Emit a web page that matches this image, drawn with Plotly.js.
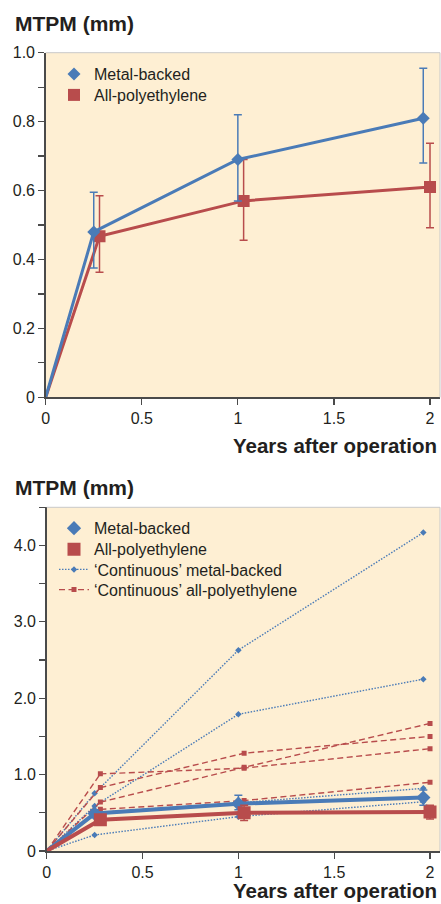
<!DOCTYPE html>
<html><head><meta charset="utf-8">
<script src="https://cdn.plot.ly/plotly-3.0.1.min.js"></script>
<style>html,body{margin:0;padding:0;background:#fff;overflow:hidden}#chart{width:441px;height:904px}</style>
</head><body><div id="chart"></div>
<script>
// ---------- data ----------
const yearsMB = [0, 0.25, 1, 1.965];
const yearsPE = [0, 0.28, 1.03, 2];

// top panel: mean MTPM with error bars
const topMB = [0, 0.48, 0.69, 0.81];
const topMBErrPlus = [0.115, 0.13, 0.145];
const topMBErrMinus = [0.105, 0.12, 0.13];
const topPE = [0, 0.467, 0.57, 0.61];
const topPEErrPlus = [0.118, 0.12, 0.127];
const topPEErrMinus = [0.104, 0.114, 0.118];

// bottom panel: means without continuous migrators
const botMB = [0, 0.49, 0.62, 0.70];
const botMBErrPlus = [0.05, 0.11, 0.1];
const botMBErrMinus = [0.05, 0.08, 0.1];
const botPE = [0, 0.41, 0.50, 0.51];
const botPEErrPlus = [0.05, 0.1, 0.09];
const botPEErrMinus = [0.05, 0.1, 0.09];

// bottom panel: individual 'continuous' migrators
const contMB1 = [0, 0.755, 2.63, 4.17];
const contMB2 = [0, 0.59, 1.79, 2.25];
const contMB3 = [0, 0.50, 0.63, 0.82];
const contMB4 = [0, 0.21, 0.45, 0.645];
const contPE1 = [0, 1.01, 1.085, 1.34];
const contPE2 = [0, 0.83, 1.28, 1.50];
const contPE3 = [0, 0.64, 1.095, 1.67];
const contPE4 = [0, 0.545, 0.66, 0.90];

const xTickVals = [0, 0.5, 1, 1.5, 2];
const xTickText = ['0', '0.5', '1', '1.5', '2'];
const topYTickVals = [0, 0.1, 0.2, 0.3, 0.4, 0.5, 0.6, 0.7, 0.8, 0.9, 1.0];
const topYTickText = ['0', '', '0.2', '', '0.4', '', '0.6', '', '0.8', '', '1.0'];
const botYTickVals = [0, 0.5, 1, 1.5, 2, 2.5, 3, 3.5, 4, 4.5];
const botYTickText = ['0', '', '1.0', '', '2.0', '', '3.0', '', '4.0', ''];

const nameMB = 'Metal-backed';
const namePE = 'All-polyethylene';
const nameCMB = '\u2018Continuous\u2019 metal-backed';
const nameCPE = '\u2018Continuous\u2019 all-polyethylene';
const yTitle = 'MTPM (mm)';
const xTitle = 'Years after operation';

// ---------- styling ----------
const BLUE = '#4a7bb7';
const RED = '#b84c4c';
const BG = '#feefd3';
const AX = '#4a4a4a';
const TXT = '#231f20';
const H = 904, W = 441;

const traces = [];

function mainSeries(x, y, errP, errM, xa, ya, color, sym, size, lw, name, legend) {
  traces.push({x: x, y: y, xaxis: xa, yaxis: ya, mode: 'lines', line: {color: color, width: lw},
    showlegend: false, hoverinfo: 'skip'});
  traces.push({x: x.slice(1), y: y.slice(1), xaxis: xa, yaxis: ya, mode: 'markers', name: name,
    legend: legend, marker: {symbol: sym, size: size, color: color},
    error_y: {type: 'data', array: errP, arrayminus: errM, color: color, thickness: 1.5, width: 4}});
}

function contSeries(x, y, color, dash, sym, size, name, legend, show) {
  traces.push({x: x.slice(0, 2), y: y.slice(0, 2), xaxis: 'x2', yaxis: 'y2', mode: 'lines',
    line: {color: color, width: 1.4, dash: dash}, showlegend: false, hoverinfo: 'skip'});
  traces.push({x: x.slice(1), y: y.slice(1), xaxis: 'x2', yaxis: 'y2', mode: 'lines+markers',
    line: {color: color, width: 1.4, dash: dash}, marker: {symbol: sym, size: size, color: color},
    name: name, legend: legend, showlegend: show});
}

// top panel
mainSeries(yearsPE, topPE, topPEErrPlus, topPEErrMinus, 'x', 'y', RED, 'square', 12, 3, namePE, 'legend2');
mainSeries(yearsMB, topMB, topMBErrPlus, topMBErrMinus, 'x', 'y', BLUE, 'diamond', 10, 3, nameMB, 'legend');

// bottom panel
const DOT = '1.5px,1.5px';
const DASH = '6px,3.5px';
[contMB1, contMB2, contMB3, contMB4].forEach((s, i) =>
  contSeries(yearsMB, s, BLUE, DOT, 'diamond', 5, nameCMB, 'legend5', i === 0));
[contPE1, contPE2, contPE3, contPE4].forEach((s, i) =>
  contSeries(yearsPE, s, RED, DASH, 'square', 5, nameCPE, 'legend6', i === 0));
mainSeries(yearsMB, botMB, botMBErrPlus, botMBErrMinus, 'x2', 'y2', BLUE, 'diamond', 11, 4, nameMB, 'legend3');
mainSeries(yearsPE, botPE, botPEErrPlus, botPEErrMinus, 'x2', 'y2', RED, 'square', 13, 4, namePE, 'legend4');

function px(xp) { return xp / W; }
function py(yp) { return (H - yp) / H; }

const axisCommon = {showline: true, linecolor: AX, linewidth: 1.5, ticks: 'outside', ticklen: 6,
  tickwidth: 1.2, tickcolor: AX, showgrid: false, zeroline: false, fixedrange: true,
  tickfont: {size: 16, color: TXT}, tickmode: 'array'};

function legendAt(xp, yp) {
  return {x: px(xp), y: py(yp), xanchor: 'left', yanchor: 'middle', bgcolor: 'rgba(0,0,0,0)',
    borderwidth: 0, font: {size: 16, color: TXT}};
}

const titleFont = {size: 21, color: TXT, weight: 'bold'};
const xTitleFont = {size: 20.5, color: TXT, weight: 'bold'};

const layout = {
  width: W, height: H, margin: {l: 0, r: 0, t: 0, b: 0},
  paper_bgcolor: '#ffffff', plot_bgcolor: BG,
  font: {family: 'Liberation Sans, Arial, sans-serif', size: 16, color: TXT},
  xaxis: Object.assign({}, axisCommon, {domain: [px(45.7), px(440)], range: [0, 2.052], anchor: 'y',
    tickvals: xTickVals, ticktext: xTickText}),
  yaxis: Object.assign({}, axisCommon, {domain: [py(397.3), py(52.7)], range: [0, 1.0], anchor: 'x',
    tickvals: topYTickVals, ticktext: topYTickText}),
  xaxis2: Object.assign({}, axisCommon, {domain: [px(46.7), px(440)], range: [0, 2.052], anchor: 'y2',
    tickvals: xTickVals, ticktext: xTickText}),
  yaxis2: Object.assign({}, axisCommon, {domain: [py(851), py(507.3)], range: [0, 4.5], anchor: 'x2',
    tickvals: botYTickVals, ticktext: botYTickText}),
  legend: legendAt(54, 74),
  legend2: legendAt(54, 95),
  legend3: legendAt(54, 528.3),
  legend4: legendAt(54, 549.3),
  legend5: legendAt(54, 569.5),
  legend6: legendAt(54, 589.7),
  shapes: [
    {type: 'line', xref: 'x domain', yref: 'y domain', x0: 0, x1: 1, y0: 1, y1: 1, line: {color: '#c9c9c9', width: 1}},
    {type: 'line', xref: 'x domain', yref: 'y domain', x0: 1, x1: 1, y0: 0, y1: 1, line: {color: '#c9c9c9', width: 1}},
    {type: 'line', xref: 'x2 domain', yref: 'y2 domain', x0: 0, x1: 1, y0: 1, y1: 1, line: {color: '#c9c9c9', width: 1}},
    {type: 'line', xref: 'x2 domain', yref: 'y2 domain', x0: 1, x1: 1, y0: 0, y1: 1, line: {color: '#c9c9c9', width: 1}}
  ],
  annotations: [
    {text: yTitle, xref: 'paper', yref: 'paper', x: px(13), y: py(23), xanchor: 'left', yanchor: 'middle', showarrow: false, font: titleFont},
    {text: xTitle, xref: 'paper', yref: 'paper', x: px(438.5), y: py(445), xanchor: 'right', yanchor: 'middle', showarrow: false, font: xTitleFont},
    {text: yTitle, xref: 'paper', yref: 'paper', x: px(13), y: py(488), xanchor: 'left', yanchor: 'middle', showarrow: false, font: titleFont},
    {text: xTitle, xref: 'paper', yref: 'paper', x: px(438.5), y: py(890), xanchor: 'right', yanchor: 'middle', showarrow: false, font: xTitleFont}
  ]
};

Plotly.newPlot('chart', traces, layout, {staticPlot: true, displayModeBar: false});
</script></body></html>
